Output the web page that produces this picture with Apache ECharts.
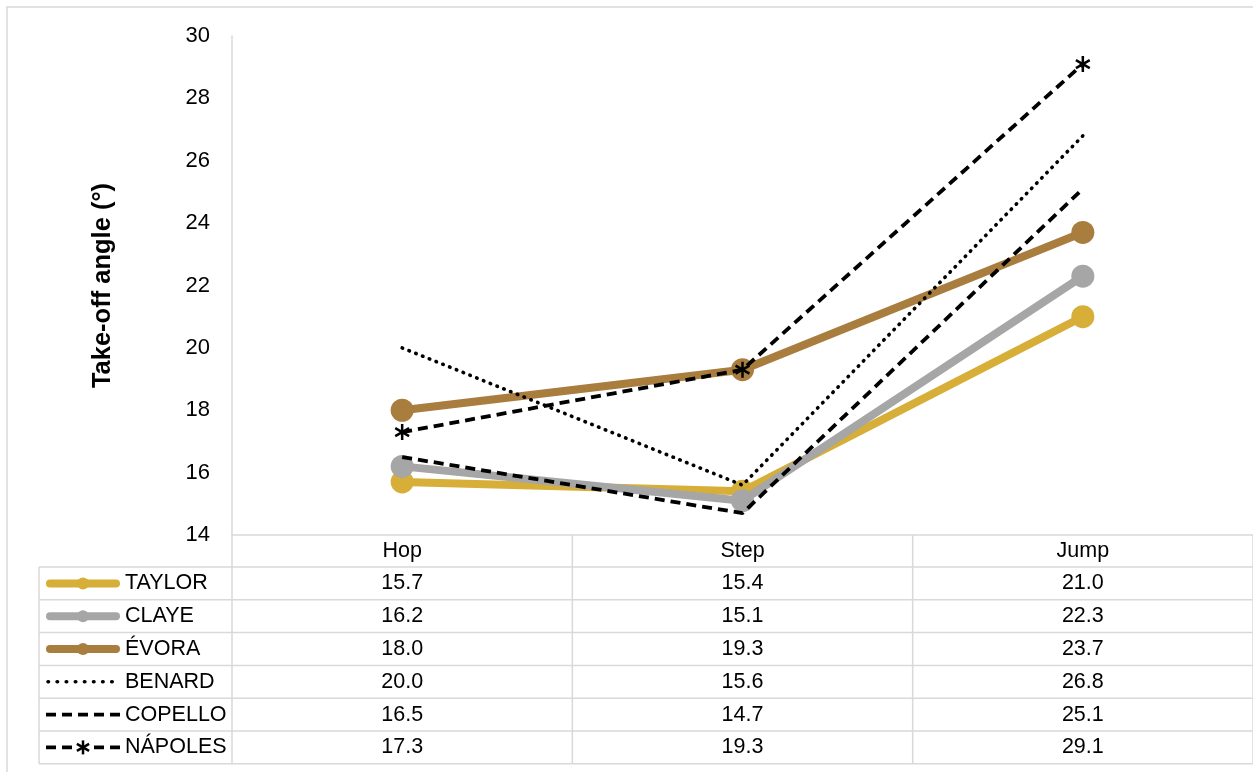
<!DOCTYPE html>
<html>
<head>
<meta charset="utf-8">
<script src="https://cdn.jsdelivr.net/npm/echarts@6/dist/echarts.min.js"></script>
<style>
  html, body { margin: 0; padding: 0; background: #ffffff; }
  #chart { width: 1253px; height: 772px; }
</style>
</head>
<body>
<div id="chart"></div>
<script>
// Take-off angles per phase of the triple jump
const phases   = ['Hop', 'Step', 'Jump'];
const athletes = ['TAYLOR', 'CLAYE', 'ÉVORA', 'BENARD', 'COPELLO', 'NÁPOLES'];
const taylor   = [15.7, 15.4, 21.0];
const claye    = [16.2, 15.1, 22.3];
const evora    = [18.0, 19.3, 23.7];
const benard   = [20.0, 15.6, 26.8];
const copello  = [16.5, 14.7, 25.1];
const napoles  = [17.3, 19.3, 29.1];
const yMin = 14, yMax = 30, yStep = 2;
const yTitle = 'Take-off angle (°)';

const values = [taylor, claye, evora, benard, copello, napoles];

const FONT = 'Liberation Sans, Arial, sans-serif';
const GRID = '#D9D9D9';
const STAR = 'path://M10,0L10,20M1.34,5L18.66,15M1.34,15L18.66,5';
const TXT = 21.5;

// Appearance of each athlete's line
const looks = [
  { kind: 'solid',  color: '#D6AE38' },
  { kind: 'solid',  color: '#A6A6A6' },
  { kind: 'solid',  color: '#A87D3E' },
  { kind: 'dotted', color: '#000000' },
  { kind: 'dashed', color: '#000000' },
  { kind: 'star',   color: '#000000' }
];

function makeSeries(i) {
  const lk = looks[i];
  const s = {
    name: athletes[i],
    type: 'line',
    data: values[i],
    silent: true,
    z: 2 + i
  };
  if (lk.kind === 'solid') {
    Object.assign(s, {
      symbol: 'circle', symbolSize: 23, showSymbol: true,
      lineStyle: { color: lk.color, width: 8, cap: 'round', join: 'round' },
      itemStyle: { color: lk.color, borderWidth: 0 }
    });
  } else if (lk.kind === 'dotted') {
    Object.assign(s, {
      symbol: 'none',
      lineStyle: { color: lk.color, width: 3.6, type: [0.5, 6.8], cap: 'round' }
    });
  } else if (lk.kind === 'dashed') {
    Object.assign(s, {
      symbol: 'none',
      lineStyle: { color: lk.color, width: 3.8, type: [10, 6], cap: 'butt' }
    });
  } else {
    Object.assign(s, {
      symbol: STAR, symbolSize: 16, symbolKeepAspect: true, showSymbol: true,
      lineStyle: { color: lk.color, width: 3.8, type: [10, 6], cap: 'butt' },
      itemStyle: { color: 'transparent', borderColor: lk.color, borderWidth: 2.5 }
    });
  }
  return s;
}

const chart = echarts.init(document.getElementById('chart'), null, { renderer: 'canvas' });

chart.setOption({
  animation: false,
  backgroundColor: '#ffffff',
  textStyle: { fontFamily: FONT },
  grid: { left: 232, right: 0, top: 36, bottom: 237 },
  xAxis: {
    type: 'category',
    data: phases,
    boundaryGap: true,
    axisLine: { show: true, lineStyle: { color: GRID, width: 1.5 } },
    axisTick: { show: false },
    axisLabel: { color: '#000', fontSize: TXT, fontFamily: FONT, margin: 16, verticalAlign: 'middle' },
    splitLine: { show: false }
  },
  yAxis: {
    type: 'value',
    min: yMin, max: yMax, interval: yStep,
    axisLine: { show: true, lineStyle: { color: GRID, width: 1.5 } },
    axisTick: { show: false },
    splitLine: { show: false },
    axisLabel: { color: '#000', fontSize: 22, fontFamily: FONT, margin: 22 },
    name: yTitle,
    nameLocation: 'middle',
    nameGap: 116,
    nameRotate: 90,
    nameTextStyle: { color: '#000', fontSize: 25.5, fontWeight: 'bold', fontFamily: FONT }
  },
  series: values.map((_, i) => makeSeries(i))
});

// Data table under the plot: legend key + athlete name + values per phase
function buildTable() {
  const els = [];
  const centers = phases.map(p => chart.convertToPixel({ xAxisIndex: 0 }, p));
  const half = (centers[1] - centers[0]) / 2;
  const plotLeft = 232;
  const tableLeft = 39;
  const headTop = 535;
  const rowTop = 567;
  const rowH = 32.8;
  const right = centers[centers.length - 1] + half;
  const bottom = rowTop + rowH * athletes.length;
  const line = (x1, y1, x2, y2) => ({
    type: 'line', silent: true, z: 1,
    shape: { x1, y1, x2, y2 },
    style: { stroke: GRID, lineWidth: 1.5 }
  });

  // outer chart frame
  els.push({ type: 'rect', silent: true, z: 0,
    shape: { x: 7, y: 7, width: 1300, height: 800 },
    style: { fill: 'none', stroke: GRID, lineWidth: 1.5 } });

  // horizontal rules
  for (let r = 0; r <= athletes.length; r++) {
    const y = rowTop + r * rowH;
    els.push(line(tableLeft, y, right, y));
  }
  // vertical rules
  els.push(line(tableLeft, rowTop, tableLeft, bottom));
  els.push(line(plotLeft, headTop, plotLeft, bottom));
  centers.forEach(c => els.push(line(c + half, headTop, c + half, bottom)));

  // rows
  athletes.forEach((name, r) => {
    const cy = rowTop + r * rowH + rowH / 2;
    const lk = looks[r];
    const kx1 = 46, kx2 = 120, kc = 83;
    if (lk.kind === 'solid') {
      els.push({ type: 'line', silent: true, z: 3,
        shape: { x1: kx1 + 4, y1: cy, x2: kx2 - 4, y2: cy },
        style: { stroke: lk.color, lineWidth: 8, lineCap: 'round' } });
      els.push({ type: 'circle', silent: true, z: 3,
        shape: { cx: kc, cy, r: 6 }, style: { fill: lk.color } });
    } else if (lk.kind === 'dotted') {
      els.push({ type: 'line', silent: true, z: 3,
        shape: { x1: kx1 + 2, y1: cy, x2: kx2, y2: cy },
        style: { stroke: lk.color, lineWidth: 3.6, lineDash: [0.5, 8.6], lineCap: 'round' } });
    } else {
      els.push({ type: 'line', silent: true, z: 3,
        shape: { x1: kx1, y1: cy, x2: kx2, y2: cy },
        style: { stroke: lk.color, lineWidth: 3.8, lineDash: [10, 6], lineCap: 'butt' } });
      if (lk.kind === 'star') {
        els.push({ type: 'rect', silent: true, z: 3,
          shape: { x: kc - 8, y: cy - 8, width: 16, height: 16 }, style: { fill: '#fff' } });
        const s = 7;
        [[0, -s, 0, s], [-s * 0.87, -s * 0.5, s * 0.87, s * 0.5], [-s * 0.87, s * 0.5, s * 0.87, -s * 0.5]]
          .forEach(([a, b, c, d]) => els.push({ type: 'line', silent: true, z: 4,
            shape: { x1: kc + a, y1: cy + b, x2: kc + c, y2: cy + d },
            style: { stroke: lk.color, lineWidth: 2.5 } }));
      }
    }
    els.push({ type: 'text', silent: true, z: 3,
      style: { x: 125, y: cy, text: name, fill: '#000', font: TXT + 'px ' + FONT,
        textAlign: 'left', textVerticalAlign: 'middle' } });
    values[r].forEach((v, c) => {
      els.push({ type: 'text', silent: true, z: 3,
        style: { x: centers[c], y: cy, text: v.toFixed(1), fill: '#000', font: TXT + 'px ' + FONT,
          textAlign: 'center', textVerticalAlign: 'middle' } });
    });
  });
  return els;
}

chart.setOption({ graphic: { elements: buildTable() } });
</script>
</body>
</html>
